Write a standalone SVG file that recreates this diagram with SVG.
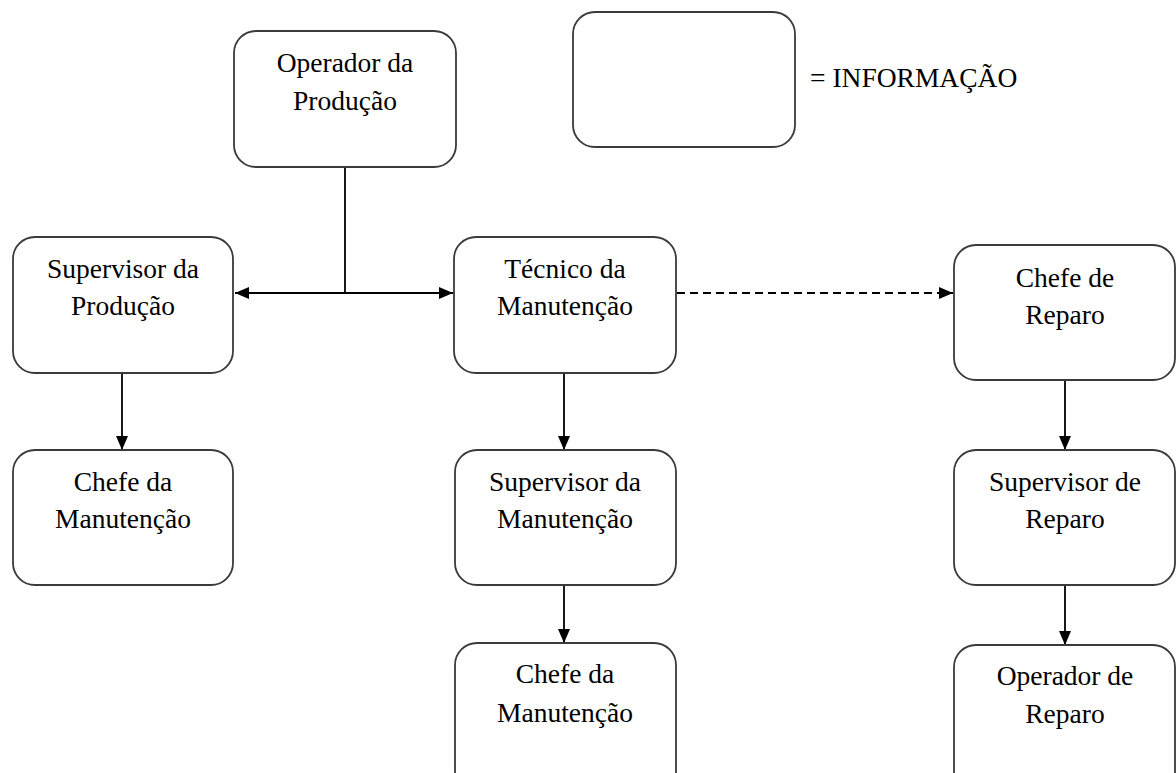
<svg xmlns="http://www.w3.org/2000/svg" width="1176" height="773" viewBox="0 0 1176 773">
  <style>
    .box { fill: #ffffff; stroke: #3a3a3a; stroke-width: 1.8; }
    .lbl { font-family: "Liberation Serif", "Times New Roman", serif; font-size: 27.5px; fill: #000000; text-anchor: middle; }
    .leg { font-family: "Liberation Serif", "Times New Roman", serif; font-size: 27.5px; fill: #000000; }
    .wire { fill: none; stroke: #000000; stroke-width: 1.8; }
    .dash { stroke-dasharray: 8 5; }
  </style>
  <defs>
    <marker id="arrow" viewBox="0 0 14 12" refX="14" refY="6" markerWidth="14" markerHeight="12" markerUnits="userSpaceOnUse" orient="auto-start-reverse">
      <path d="M0,0 L14,6 L0,12 Z" fill="#000000"/>
    </marker>
  </defs>
  <rect width="1176" height="773" fill="#ffffff"/>

  <!-- connectors -->
  <g id="connectors">
    <path class="wire" d="M345,167 V293"/>
    <path class="wire" d="M235,293 H453" marker-start="url(#arrow)" marker-end="url(#arrow)"/>
    <path class="wire dash" d="M677,293 H953" marker-end="url(#arrow)"/>
    <path class="wire" d="M122,373 V450" marker-end="url(#arrow)"/>
    <path class="wire" d="M564,373 V450" marker-end="url(#arrow)"/>
    <path class="wire" d="M564,585 V643" marker-end="url(#arrow)"/>
    <path class="wire" d="M1065,380 V450" marker-end="url(#arrow)"/>
    <path class="wire" d="M1065,585 V645" marker-end="url(#arrow)"/>
  </g>

  <!-- legend -->
  <g id="legend">
    <rect class="box" x="573" y="12" width="222" height="135" rx="22"/>
    <text class="leg" x="810" y="87">= INFORMAÇÃO</text>
  </g>

  <g id="operador-producao">
    <rect class="box" x="234" y="31" width="222" height="136" rx="22"/>
    <text class="lbl" x="345" y="72">Operador da</text>
    <text class="lbl" x="345" y="110">Produção</text>
  </g>

  <g id="supervisor-producao">
    <rect class="box" x="13" y="237" width="220" height="136" rx="22"/>
    <text class="lbl" x="123" y="278">Supervisor da</text>
    <text class="lbl" x="123" y="315">Produção</text>
  </g>

  <g id="tecnico-manutencao">
    <rect class="box" x="454" y="237" width="222" height="136" rx="22"/>
    <text class="lbl" x="565" y="278">Técnico da</text>
    <text class="lbl" x="565" y="315">Manutenção</text>
  </g>

  <g id="chefe-reparo">
    <rect class="box" x="954" y="245" width="221" height="135" rx="22"/>
    <text class="lbl" x="1065" y="287">Chefe de</text>
    <text class="lbl" x="1065" y="324">Reparo</text>
  </g>

  <g id="chefe-manutencao-1">
    <rect class="box" x="13" y="450" width="220" height="135" rx="22"/>
    <text class="lbl" x="123" y="491">Chefe da</text>
    <text class="lbl" x="123" y="528">Manutenção</text>
  </g>

  <g id="supervisor-manutencao">
    <rect class="box" x="455" y="450" width="221" height="135" rx="22"/>
    <text class="lbl" x="565" y="491">Supervisor da</text>
    <text class="lbl" x="565" y="528">Manutenção</text>
  </g>

  <g id="supervisor-reparo">
    <rect class="box" x="954" y="450" width="221" height="135" rx="22"/>
    <text class="lbl" x="1065" y="491">Supervisor de</text>
    <text class="lbl" x="1065" y="528">Reparo</text>
  </g>

  <g id="chefe-manutencao-2">
    <rect class="box" x="455" y="643" width="221" height="150" rx="22"/>
    <text class="lbl" x="565" y="683">Chefe da</text>
    <text class="lbl" x="565" y="722">Manutenção</text>
  </g>

  <g id="operador-reparo">
    <rect class="box" x="954" y="645" width="221" height="150" rx="22"/>
    <text class="lbl" x="1065" y="685">Operador de</text>
    <text class="lbl" x="1065" y="723">Reparo</text>
  </g>
</svg>
